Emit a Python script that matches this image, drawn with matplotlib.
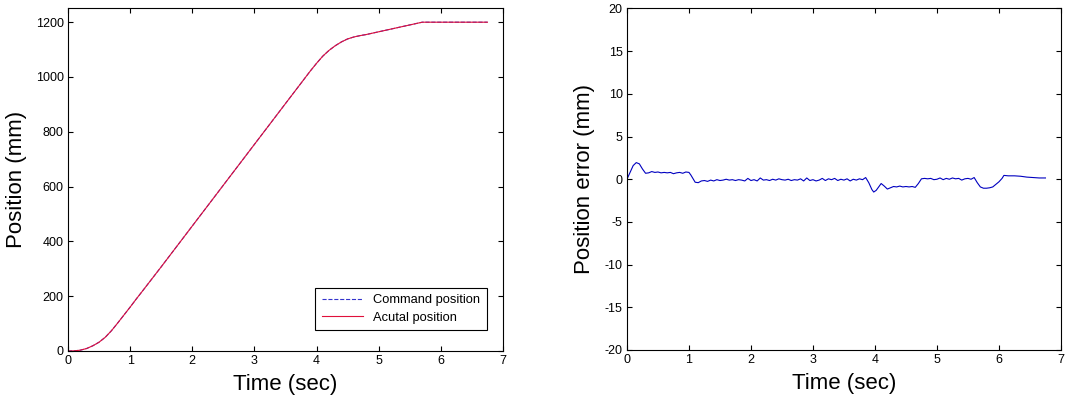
import matplotlib
matplotlib.use("Agg")
import matplotlib.pyplot as plt

plt.rcParams["font.family"] = ["Liberation Sans", "DejaVu Sans"]
plt.rcParams["axes.unicode_minus"] = False

# POSITION DATA (left panel)

pos_t = [0.0, 0.1, 0.2, 0.3, 0.4, 0.5, 0.6, 0.7, 0.8, 0.9, 1.0, 1.1, 1.2, 1.5,
         2.0, 2.5, 3.0, 3.5, 3.9, 4.0, 4.1, 4.2, 4.3, 4.4, 4.5, 4.6, 4.7, 4.8,
         5.0, 5.2, 5.4, 5.6, 5.7, 6.0, 6.75]
cmd_pos = [0, 0.5, 3, 9, 19, 32, 50, 74, 102, 131, 160, 190, 219, 307,
           456, 605, 754, 903, 1022, 1050, 1076, 1097, 1114, 1128, 1139, 1146, 1151, 1155,
           1165, 1175, 1185, 1195, 1200, 1200, 1200]
act_pos = [0, 0.5, 3, 9, 19, 32, 50, 74, 102, 131, 160, 190, 219, 307,
           456, 605, 754, 903, 1022, 1050, 1076, 1097, 1114, 1128, 1139, 1146, 1151, 1155,
           1165, 1175, 1185, 1195, 1200, 1200, 1200]

# POSITION ERROR DATA (right panel)

err_t = [0.00, 0.05, 0.10, 0.15, 0.20, 0.25, 0.30, 0.35, 0.40, 0.45, 0.50, 0.55,
         0.60, 0.65, 0.70, 0.75, 0.80, 0.85, 0.90, 0.95, 1.00, 1.03, 1.07, 1.10,
         1.15, 1.20, 1.25, 1.30, 1.35, 1.40, 1.45, 1.50, 1.55, 1.60, 1.65, 1.70,
         1.75, 1.80, 1.85, 1.90, 1.95, 2.00, 2.05, 2.10, 2.15, 2.20, 2.25, 2.30,
         2.35, 2.40, 2.45, 2.50, 2.55, 2.60, 2.65, 2.70, 2.75, 2.80, 2.85, 2.90,
         2.95, 3.00, 3.05, 3.10, 3.15, 3.20, 3.25, 3.30, 3.35, 3.40, 3.45, 3.50,
         3.55, 3.60, 3.65, 3.70, 3.75, 3.80, 3.85, 3.90, 3.95, 3.98, 4.02, 4.07,
         4.10, 4.15, 4.20, 4.25, 4.30, 4.35, 4.40, 4.45, 4.50, 4.55, 4.60, 4.65,
         4.70, 4.75, 4.80, 4.85, 4.90, 4.95, 5.00, 5.05, 5.10, 5.15, 5.20, 5.25,
         5.30, 5.35, 5.40, 5.45, 5.50, 5.55, 5.60, 5.65, 5.70, 5.75, 5.80, 5.85,
         5.90, 5.95, 6.00, 6.05, 6.08, 6.15, 6.25, 6.35, 6.45, 6.55, 6.65, 6.75]
err_v = [0.0, 0.8, 1.6, 1.95, 1.8, 1.2, 0.7, 0.75, 0.9, 0.8, 0.85, 0.75,
         0.8, 0.75, 0.8, 0.65, 0.75, 0.8, 0.7, 0.85, 0.8, 0.5, 0.0, -0.35,
         -0.4, -0.2, -0.15, -0.25, -0.1, -0.2, -0.05, -0.15, -0.1, 0.0, -0.1, -0.05,
         -0.15, -0.05, -0.1, -0.2, 0.1, -0.15, -0.05, -0.2, 0.15, -0.1, -0.05, -0.15,
         0.0, -0.1, 0.05, -0.05, -0.1, 0.0, -0.15, -0.05, -0.1, 0.05, -0.2, 0.15,
         -0.15, -0.05, -0.2, -0.1, 0.1, -0.15, 0.05, -0.05, 0.1, -0.15, 0.0, -0.1,
         0.05, -0.2, 0.0, -0.1, 0.05, -0.05, 0.2, -0.4, -1.2, -1.5, -1.3, -0.8,
         -0.5, -0.8, -1.15, -1.0, -0.85, -0.9, -0.8, -0.9, -0.85, -0.9, -0.85, -0.95,
         -0.5, 0.05, 0.1, 0.05, 0.1, -0.05, 0.0, 0.15, -0.05, 0.1, 0.0, 0.15,
         0.05, 0.1, -0.1, 0.05, 0.1, 0.0, 0.2, -0.4, -0.9, -1.05, -1.05, -1.0,
         -0.9, -0.6, -0.3, 0.1, 0.45, 0.4, 0.4, 0.35, 0.25, 0.2, 0.15, 0.15]

fig = plt.figure(figsize=(10.65, 3.97), dpi=100)
ax1 = fig.add_axes([0.0638, 0.1159, 0.4085, 0.8627])
ax2 = fig.add_axes([0.5887, 0.1184, 0.4075, 0.8602])

# LEFT: POSITION

ax1.plot(pos_t, cmd_pos, linestyle="--", color="#3333cc", linewidth=0.8,
         label="Command position")
ax1.plot(pos_t, act_pos, linestyle="-", color="#e0103a", linewidth=0.8,
         label="Acutal position")
ax1.set_xlim(0, 7)
ax1.set_ylim(0, 1250)
ax1.set_xticks(range(0, 8))
ax1.set_yticks(range(0, 1201, 200))
ax1.set_xlabel("Time (sec)", fontsize=16, labelpad=5)
ax1.set_ylabel("Position (mm)", fontsize=16, labelpad=6)
leg = ax1.legend(loc="lower right", bbox_to_anchor=(0.963, 0.061), borderaxespad=0,
                 fontsize=9.3, fancybox=False, framealpha=1, edgecolor="black",
                 handlelength=3.2, borderpad=0.5, labelspacing=0.4)
leg.get_frame().set_linewidth(0.8)

# RIGHT: POSITION ERROR

ax2.plot(err_t, err_v, color="#0000c0", linewidth=0.8)
ax2.set_xlim(0, 7)
ax2.set_ylim(-20, 20)
ax2.set_xticks(range(0, 8))
ax2.set_yticks(range(-20, 21, 5))
ax2.set_xlabel("Time (sec)", fontsize=16, labelpad=5)
ax2.set_ylabel("Position error (mm)", fontsize=16, labelpad=7)

for ax in (ax1, ax2):
    ax.tick_params(direction="in", length=3.5, width=0.8, labelsize=9,
                   top=True, right=True, pad=3, colors="black")
    for sp in ax.spines.values():
        sp.set_linewidth(0.8)

fig.savefig("out.png", dpi=100)
